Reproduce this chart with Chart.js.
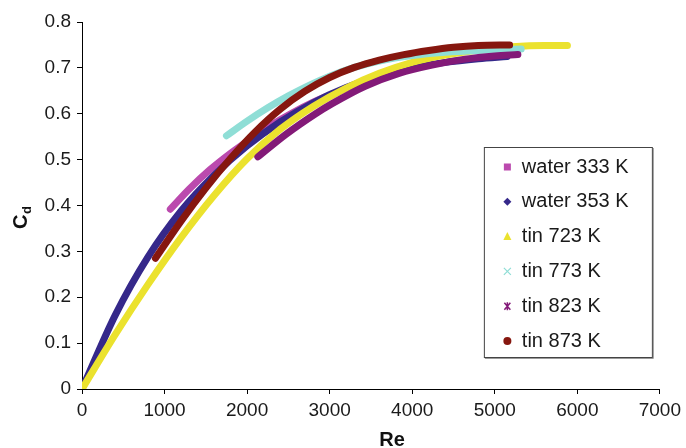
<!DOCTYPE html>
<html>
<head>
<meta charset="utf-8">
<script src="https://cdn.jsdelivr.net/npm/chart.js@4/dist/chart.umd.min.js"></script>
<style>
  html, body { margin: 0; padding: 0; background: #fff; }
  #wrap { width: 686px; height: 448px; }
</style>
</head>
<body>
<div id="wrap"><canvas id="cdChart" width="686" height="448"></canvas></div>
<script>
// series names
const seriesNames = ['water 333 K', 'water 353 K', 'tin 723 K', 'tin 773 K', 'tin 823 K', 'tin 873 K'];
const seriesColors = ['#bb4aae', '#35288a', '#ebe22e', '#8fded6', '#831a78', '#86170f'];

// Re values / Cd values
const water333Re = [1070, 1300, 1550, 1800, 2050, 2300, 2550, 2800, 2950];
const water333Cd = [0.392, 0.436, 0.478, 0.514, 0.546, 0.576, 0.602, 0.625, 0.637];

const water353Re = [0, 400, 800, 1200, 1600, 2000, 2400, 2800, 3200, 3600, 4000, 4400, 4800, 5150];
const water353Cd = [0, 0.160, 0.288, 0.388, 0.466, 0.530, 0.582, 0.624, 0.657, 0.682, 0.700, 0.712, 0.720, 0.725];

const tin723Re = [0, 400, 800, 1200, 1600, 2000, 2400, 2800, 3200, 3600, 4000, 4400, 4800, 5200, 5600, 5880];
const tin723Cd = [0, 0.118, 0.228, 0.330, 0.422, 0.502, 0.566, 0.616, 0.656, 0.688, 0.712, 0.728, 0.739, 0.746, 0.749, 0.749];

const tin773Re = [1750, 2000, 2250, 2500, 2750, 3000, 3300, 3600, 4000, 4400, 4800, 5320];
const tin773Cd = [0.552, 0.584, 0.613, 0.639, 0.662, 0.682, 0.701, 0.715, 0.727, 0.734, 0.738, 0.741];

const tin823Re = [2130, 2470, 2830, 3030, 3430, 3840, 4240, 4640, 5000, 5280];
const tin823Cd = [0.506, 0.555, 0.600, 0.622, 0.660, 0.688, 0.706, 0.719, 0.726, 0.729];

const tin873Re = [890, 1200, 1500, 1800, 2100, 2400, 2700, 3000, 3300, 3600, 3900, 4200, 4500, 4800, 5180];
const tin873Cd = [0.285, 0.366, 0.438, 0.503, 0.561, 0.610, 0.649, 0.679, 0.701, 0.717, 0.729, 0.738, 0.745, 0.749, 0.750];

// axis ticks
const reTicks = [0, 1000, 2000, 3000, 4000, 5000, 6000, 7000];
const cdTicks = [0, 0.1, 0.2, 0.3, 0.4, 0.5, 0.6, 0.7, 0.8];

const allRe = [water333Re, water353Re, tin723Re, tin773Re, tin823Re, tin873Re];
const allCd = [water333Cd, water353Cd, tin723Cd, tin773Cd, tin823Cd, tin873Cd];

const FONT = "'Liberation Sans', Arial, Helvetica, sans-serif";
Chart.defaults.font.family = FONT;
Chart.defaults.color = '#111';

const datasets = seriesNames.map((name, i) => ({
    label: name,
    data: allRe[i].map((x, j) => ({ x: x, y: allCd[i][j] })),
    showLine: true,
    borderColor: seriesColors[i],
    backgroundColor: seriesColors[i],
    borderWidth: 7,
    borderCapStyle: 'round',
    pointRadius: 0,
    cubicInterpolationMode: 'monotone',
    order: seriesNames.length - i // later series drawn on top, like the original
}));

// legend box inside the plot, markers drawn by hand
function drawMarker(ctx, kind, cx, cy, color) {
    ctx.fillStyle = color;
    ctx.strokeStyle = color;
    ctx.beginPath();
    if (kind === 0) {
        ctx.fillRect(cx - 3.5, cy - 3.5, 7, 7);
    } else if (kind === 1) {
        ctx.moveTo(cx, cy - 4); ctx.lineTo(cx + 4, cy); ctx.lineTo(cx, cy + 4); ctx.lineTo(cx - 4, cy);
        ctx.closePath(); ctx.fill();
    } else if (kind === 2) {
        ctx.moveTo(cx, cy - 4.5); ctx.lineTo(cx + 4, cy + 3.5); ctx.lineTo(cx - 4, cy + 3.5);
        ctx.closePath(); ctx.fill();
    } else if (kind === 3) {
        ctx.lineWidth = 1.2;
        ctx.moveTo(cx - 3.5, cy - 3.5); ctx.lineTo(cx + 3.5, cy + 3.5);
        ctx.moveTo(cx + 3.5, cy - 3.5); ctx.lineTo(cx - 3.5, cy + 3.5);
        ctx.stroke();
    } else if (kind === 4) {
        ctx.lineWidth = 1.5;
        ctx.moveTo(cx - 3, cy - 3.5); ctx.lineTo(cx + 3, cy + 3.5);
        ctx.moveTo(cx + 3, cy - 3.5); ctx.lineTo(cx - 3, cy + 3.5);
        ctx.moveTo(cx, cy - 4); ctx.lineTo(cx, cy + 4);
        ctx.stroke();
    } else {
        ctx.arc(cx, cy, 4, 0, Math.PI * 2);
        ctx.fill();
    }
}

const boxLegend = {
    id: 'boxLegend',
    afterDraw(chart) {
        const ctx = chart.ctx;
        const area = chart.chartArea;
        const left = area.right - 176, top = area.top + 125, w = 168, h = 210;
        ctx.save();
        ctx.fillStyle = '#fff';
        ctx.fillRect(left, top, w, h);
        ctx.strokeStyle = '#9a9a9a';
        ctx.lineWidth = 1;
        ctx.beginPath();
        ctx.moveTo(left + w + 1.5, top + 1); ctx.lineTo(left + w + 1.5, top + h + 1.5); ctx.lineTo(left + 1, top + h + 1.5);
        ctx.stroke();
        ctx.strokeStyle = '#444';
        ctx.strokeRect(left + 0.5, top + 0.5, w, h);

        ctx.font = '20px ' + FONT;
        ctx.textBaseline = 'middle';
        ctx.textAlign = 'left';
        seriesNames.forEach((name, i) => {
            const cy = top + 20 + i * 34.8;
            drawMarker(ctx, i, left + 23.5, cy, seriesColors[i]);
            ctx.fillStyle = '#1a1a1a';
            ctx.fillText(name, left + 38, cy);
        });
        ctx.restore();
    }
};

// axis titles: Re under the x axis, C with subscript d rotated
const axisTitles = {
    id: 'axisTitles',
    afterDraw(chart) {
        const ctx = chart.ctx;
        ctx.save();
        ctx.fillStyle = '#111';
        ctx.font = 'bold 20px ' + FONT;
        ctx.textAlign = 'center';
        ctx.textBaseline = 'alphabetic';
        ctx.fillText('Re', 392, 446);

        ctx.translate(27, 229);
        ctx.rotate(-Math.PI / 2);
        ctx.textAlign = 'left';
        ctx.fillText('C', 0, 0);
        const cw = ctx.measureText('C').width;
        ctx.font = 'bold 13px ' + FONT;
        ctx.fillText('d', cw + 0.5, 4);
        ctx.restore();
    }
};

new Chart(document.getElementById('cdChart'), {
    type: 'scatter',
    data: { datasets: datasets },
    options: {
        responsive: false,
        animation: false,
        layout: { autoPadding: false, padding: { top: 22, right: 23, left: 0, bottom: 0 } },
        plugins: {
            legend: { display: false },
            tooltip: { enabled: false }
        },
        scales: {
            x: {
                type: 'linear',
                min: reTicks[0],
                max: reTicks[reTicks.length - 1],
                afterBuildTicks: axis => { axis.ticks = reTicks.map(v => ({ value: v })); },
                afterFit: axis => { axis.height = 59; },
                ticks: {
                    callback: v => String(v),
                    font: { size: 19 },
                    color: '#1a1a1a',
                    padding: 5,
                    maxRotation: 0
                },
                grid: { drawOnChartArea: false, drawTicks: true, tickLength: 5, color: '#000' },
                border: { color: '#000', width: 1 }
            },
            y: {
                type: 'linear',
                min: cdTicks[0],
                max: cdTicks[cdTicks.length - 1],
                afterBuildTicks: axis => { axis.ticks = cdTicks.map(v => ({ value: v })); },
                afterFit: axis => { axis.width = 82; },
                ticks: {
                    callback: v => String(Math.round(v * 10) / 10),
                    font: { size: 19 },
                    color: '#1a1a1a',
                    padding: 6
                },
                grid: { drawOnChartArea: false, drawTicks: true, tickLength: 5, color: '#000' },
                border: { color: '#000', width: 1 }
            }
        }
    },
    plugins: [boxLegend, axisTitles]
});
</script>
</body>
</html>
